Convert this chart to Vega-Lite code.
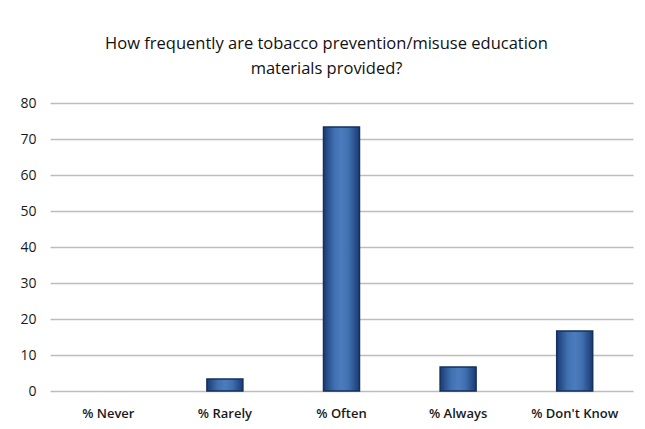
{
  "$schema": "https://vega.github.io/schema/vega-lite/v6.json",
  "autosize": {"type": "none"},
  "width": 583,
  "height": 288,
  "padding": {"left": 50, "top": 103, "right": 12, "bottom": 38},
  "background": "#ffffff",
  "title": {
    "text": ["How frequently are tobacco prevention/misuse education", "materials provided?"],
    "font": "Open Sans",
    "fontSize": 16.5,
    "fontWeight": "normal",
    "color": "#111111",
    "lineHeight": 25,
    "anchor": "middle",
    "frame": "bounds",
    "offset": 19
  },
  "data": {
    "values": [
      {"response": "% Never", "percent": 0},
      {"response": "% Rarely", "percent": 3.3},
      {"response": "% Often", "percent": 73.3},
      {"response": "% Always", "percent": 6.7},
      {"response": "% Don't Know", "percent": 16.7}
    ]
  },
  "mark": {
    "type": "bar",
    "size": 36,
    "stroke": "#14305c",
    "strokeWidth": 1.5,
    "color": {
      "gradient": "linear",
      "x1": 0, "y1": 0, "x2": 1, "y2": 0,
      "stops": [
        {"offset": 0, "color": "#1a3b74"},
        {"offset": 0.3, "color": "#4070b0"},
        {"offset": 0.5, "color": "#4c7cbd"},
        {"offset": 0.7, "color": "#4070b0"},
        {"offset": 1, "color": "#1a3b74"}
      ]
    }
  },
  "encoding": {
    "x": {
      "field": "response",
      "type": "nominal",
      "sort": null,
      "axis": {
        "title": null,
        "labelAngle": 0,
        "labelFont": "Open Sans",
        "labelFontSize": 13,
        "labelFontWeight": 600,
        "labelColor": "#1a1a1a",
        "labelPadding": 16,
        "domain": false,
        "ticks": false
      }
    },
    "y": {
      "field": "percent",
      "type": "quantitative",
      "scale": {"domain": [0, 80]},
      "axis": {
        "title": null,
        "values": [0, 10, 20, 30, 40, 50, 60, 70, 80],
        "labelFont": "Open Sans",
        "labelFontSize": 14,
        "labelColor": "#1a1a1a",
        "labelPadding": 14,
        "domain": false,
        "ticks": false,
        "gridColor": "#bdbdbd",
        "gridWidth": 1.5
      }
    },
    "strokeOpacity": {
      "condition": {"test": "datum.percent > 0", "value": 1},
      "value": 0
    }
  },
  "config": {
    "view": {"stroke": null}
  }
}
